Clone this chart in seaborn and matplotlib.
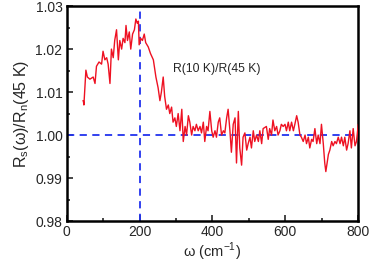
import numpy as np
import pandas as pd
import matplotlib
matplotlib.use("Agg")
import matplotlib.pyplot as plt
import seaborn as sns
from matplotlib.ticker import MultipleLocator

omega = [45, 46, 47.5, 53, 57, 64, 73, 78, 82, 89, 96, 100, 105, 110, 114, 119, 123, 128, 132,
         137, 142, 146, 151, 155, 160, 163, 167, 172, 176, 181, 186, 190, 194, 197, 199, 203, 208,
         213, 217, 224, 230, 238, 245, 251, 256, 260, 265, 269, 274, 279, 283, 288, 292, 297, 301,
         306, 311, 316, 320, 325, 329, 334, 338, 343, 347, 352, 356, 361, 366, 370, 375, 379, 384,
         388, 393, 398, 402, 407, 411, 416, 420, 425, 430, 434, 439, 443, 448, 452, 457, 462, 466,
         471, 475, 480, 484, 489, 494, 498, 503, 507, 512, 516, 521, 526, 530, 535, 539, 548, 553,
         557, 562, 566, 571, 576, 580, 585, 589, 594, 599, 603, 608, 612, 617, 622, 626, 631, 635,
         640, 644, 649, 654, 658, 663, 667, 672, 676, 681, 686, 690, 695, 699, 704, 708, 711, 718,
         722, 727, 731, 736, 740, 745, 750, 754, 759, 763, 768, 772, 777, 781, 786, 791, 795, 800]
ratio = [1.008, 1.008, 1.007, 1.0151, 1.0135, 1.013, 1.0135, 1.012, 1.016, 1.017, 1.0165, 1.0195,
         1.0175, 1.018, 1.0165, 1.012, 1.020, 1.018, 1.022, 1.0245, 1.0175, 1.022, 1.020, 1.0225,
         1.0215, 1.0255, 1.022, 1.024, 1.020, 1.0235, 1.0245, 1.027, 1.026, 1.0265, 1.021, 1.0225,
         1.022, 1.0235, 1.0215, 1.0205, 1.019, 1.0175, 1.0135, 1.011, 1.008, 1.010, 1.0135, 1.009,
         1.006, 1.007, 1.005, 1.0065, 1.003, 1.004, 1.002, 1.005, 1.001, 1.006, 0.9985, 1.002,
         1.000, 1.0045, 1.003, 1.000, 1.002, 1.001, 1.0025, 1.001, 1.002, 1.0005, 1.003, 0.9985,
         1.002, 1.001, 1.0055, 1.001, 0.9995, 1.001, 0.9995, 1.003, 1.004, 1.000, 1.001, 1.0005,
         1.004, 1.006, 1.001, 0.996, 1.0025, 1.004, 0.9935, 1.0055, 0.997, 0.993, 0.9995, 1.0005,
         0.9965, 0.998, 0.9995, 0.997, 1.001, 0.9985, 1.000, 0.9985, 1.001, 0.998, 1.0015, 1.002,
         0.999, 1.0015, 1.000, 1.0035, 1.001, 1.002, 1.000, 1.001, 1.0025, 1.002, 1.0025, 1.001,
         1.003, 1.001, 1.003, 1.001, 1.0025, 1.0045, 1.003, 1.000, 0.9995, 0.9985, 1.000, 0.998,
         0.9995, 0.997, 0.999, 0.9985, 1.0015, 0.998, 1.000, 0.998, 1.0025, 0.998, 0.9935, 0.9915,
         0.9955, 0.9965, 0.9985, 0.9975, 0.9985, 0.998, 0.9995, 0.998, 0.9995, 0.9975, 0.9995,
         0.9965, 0.998, 1.001, 0.997, 1.0015, 0.9975, 0.9985, 1.0025]

x_ticks = [0, 200, 400, 600, 800]
y_ticks = [0.98, 0.99, 1.00, 1.01, 1.02, 1.03]
y_tick_labels = ["0.98", "0.99", "1.00", "1.01", "1.02", "1.03"]

sns.set_style("white")
plt.rcParams['font.family'] = ['Liberation Sans', 'DejaVu Sans']
plt.rcParams['mathtext.fontset'] = 'custom'
plt.rcParams['mathtext.rm'] = 'Liberation Sans'

fig = plt.figure(figsize=(3.74, 2.72), dpi=100)
ax = fig.add_axes([0.178, 0.1875, 0.78, 0.79])

df = pd.DataFrame({"omega": omega, "ratio": ratio})
sns.lineplot(data=df, x="omega", y="ratio", ax=ax, color="#ee1122", lw=1.0, zorder=3)

ax.axhline(1.00, color="#2233ee", lw=1.3, ls=(0, (4, 3)), zorder=2)
ax.axvline(200, color="#2233ee", lw=1.3, ls=(0, (4, 3)), zorder=2)

ax.text(291, 1.0153, "R(10 K)/R(45 K)", fontsize=8.7, va="center", ha="left")

ax.set_xlim(0, 800)
ax.set_ylim(0.98, 1.03)
ax.set_xticks(x_ticks)
ax.set_yticks(y_ticks)
ax.set_yticklabels(y_tick_labels)
ax.xaxis.set_minor_locator(MultipleLocator(100))
ax.yaxis.set_minor_locator(MultipleLocator(0.005))
ax.tick_params(which="both", direction="in", bottom=True, left=True, top=False, right=False,
               labelsize=10, width=1.2)
ax.tick_params(which="major", length=4, pad=3)
ax.tick_params(which="minor", length=2.5)
for s in ax.spines.values():
    s.set_linewidth(1.8)
    s.set_color("black")

ax.set_xlabel("ω (cm$^{\\mathregular{-1}}$)", fontsize=10.5, labelpad=1)
ax.set_ylabel("R$_\\mathregular{s}$(ω)/R$_\\mathregular{n}$(45 K)", fontsize=11.5, labelpad=3)

fig.savefig("out.png", dpi=100)
